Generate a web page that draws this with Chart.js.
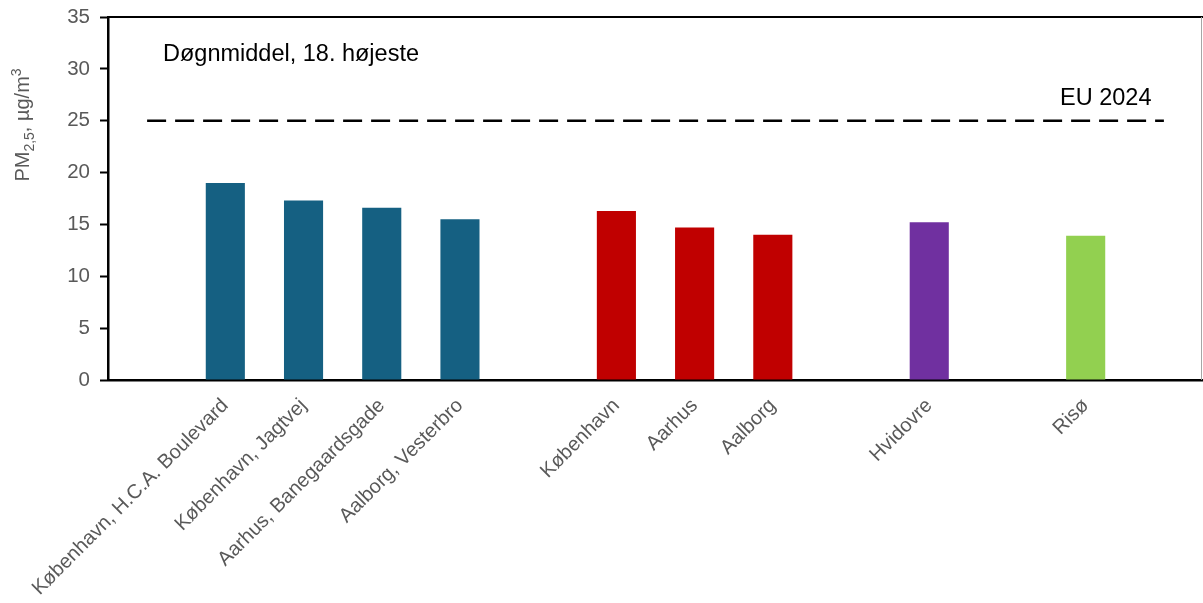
<!DOCTYPE html>
<html lang="da">
<head>
    <meta charset="UTF-8">
    <title>PM2,5 døgnmiddel, 18. højeste</title>
    <script src="https://cdn.jsdelivr.net/npm/chart.js"></script>
    <style>
        body {
            margin: 0;
            background: #fff;
        }
        .chart-box {
            width: 1203px;
            height: 603px;
        }
    </style>
</head>
<body>
    <div class="chart-box">
        <canvas id="pmChart"></canvas>
    </div>

    <script>
        // stations (blank entries are the gaps between groups)
        const stations = ['', 'København, H.C.A. Boulevard', 'København, Jagtvej', 'Aarhus, Banegaardsgade', 'Aalborg, Vesterbro',
            '', 'København', 'Aarhus', 'Aalborg', '', 'Hvidovre', '', 'Risø', ''];
        const pmValues = [null, 19.0, 17.3, 16.6, 15.5, null, 16.3, 14.7, 14.0, null, 15.2, null, 13.9, null];
        const barColors = ['#156082', '#156082', '#156082', '#156082', '#156082', '#156082',
            '#C00000', '#C00000', '#C00000', '#C00000', '#7030A0', '#7030A0', '#92D050', '#92D050'];
        const euLimit = [25, 25, 25, 25, 25, 25, 25, 25, 25, 25, 25, 25, 25, 25];
        const yTicks = [0, 5, 10, 15, 20, 25, 30, 35];

        const gray = '#595959';
        const font = 'Liberation Sans, Arial, sans-serif';

        // frame, labels and y axis title
        const extras = {
            id: 'extras',
            afterDraw(chart) {
                const { ctx, chartArea } = chart;
                const y = chart.scales.y;
                ctx.save();
                // top and right border
                ctx.strokeStyle = '#000';
                ctx.lineWidth = 2;
                ctx.beginPath();
                ctx.moveTo(chartArea.left, chartArea.top);
                ctx.lineTo(chartArea.right, chartArea.top);
                ctx.stroke();
                ctx.strokeStyle = '#a6a6a6';
                ctx.lineWidth = 1;
                ctx.beginPath();
                ctx.moveTo(chartArea.right - 1.5, chartArea.top);
                ctx.lineTo(chartArea.right - 1.5, chartArea.bottom);
                ctx.stroke();

                ctx.fillStyle = '#000';
                ctx.font = '23.5px ' + font;
                ctx.textBaseline = 'alphabetic';
                ctx.textAlign = 'left';
                ctx.fillText('Døgnmiddel, 18. højeste', 163, y.getPixelForValue(30.8));
                ctx.fillText('EU 2024', 1060, y.getPixelForValue(26.5));

                // PM2,5, µg/m3 with sub/superscript
                ctx.translate(29, 125);
                ctx.rotate(-Math.PI / 2);
                ctx.fillStyle = gray;
                const parts = [
                    ['PM', 20, 0], ['2,5', 14, 5], [', µg/m', 20, 0], ['3', 14, -8]
                ];
                let total = 0;
                parts.forEach(p => { ctx.font = p[1] + 'px ' + font; total += ctx.measureText(p[0]).width; });
                let x = -total / 2;
                parts.forEach(p => {
                    ctx.font = p[1] + 'px ' + font;
                    ctx.fillText(p[0], x, p[2]);
                    x += ctx.measureText(p[0]).width;
                });
                ctx.restore();
            }
        };

        new Chart(document.getElementById('pmChart'), {
            data: {
                labels: stations,
                datasets: [
                    {
                        type: 'line',
                        data: euLimit,
                        borderColor: '#000',
                        borderWidth: 2.5,
                        borderDash: [19, 9],
                        pointRadius: 0,
                        fill: false,
                        order: 0
                    },
                    {
                        type: 'bar',
                        data: pmValues,
                        backgroundColor: barColors,
                        categoryPercentage: 1,
                        barPercentage: 0.5,
                        order: 1
                    }
                ]
            },
            options: {
                responsive: true,
                maintainAspectRatio: false,
                animation: false,
                layout: { padding: { top: 17, right: 0, left: 0, bottom: 0 } },
                plugins: {
                    legend: { display: false },
                    tooltip: { enabled: false }
                },
                scales: {
                    x: {
                        grid: { display: false },
                        border: { color: '#000', width: 2.5 },
                        ticks: {
                            color: gray,
                            font: { family: font, size: 20 },
                            maxRotation: 45,
                            minRotation: 45,
                            autoSkip: false,
                            padding: 6
                        },
                        afterFit(scale) {
                            scale.height = 223;
                            scale.paddingLeft = 0;
                            scale.paddingRight = 0;
                        }
                    },
                    y: {
                        min: 0,
                        max: 35,
                        afterBuildTicks(scale) { scale.ticks = yTicks.map(v => ({ value: v })); },
                        grid: {
                            drawOnChartArea: false,
                            tickLength: 8,
                            tickColor: '#000',
                            tickWidth: 2
                        },
                        border: { color: '#000', width: 2.5 },
                        ticks: {
                            color: gray,
                            font: { family: font, size: 20.5 },
                            padding: 10
                        },
                        afterFit(scale) {
                            scale.width = 108;
                            scale.paddingTop = 0;
                            scale.paddingBottom = 0;
                        }
                    }
                }
            },
            plugins: [extras]
        });
    </script>
</body>
</html>
